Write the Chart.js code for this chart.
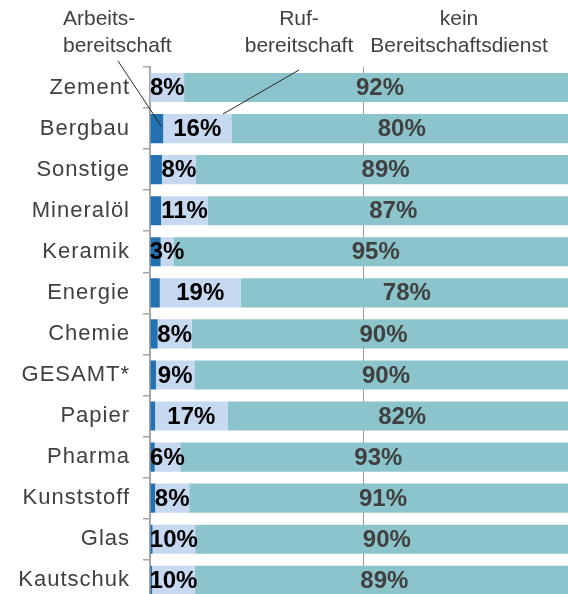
<!DOCTYPE html>
<html>
<head>
<meta charset="utf-8">
<script src="https://cdn.jsdelivr.net/npm/chart.js@4"></script>
<style>
  html, body { margin: 0; padding: 0; overflow: hidden; background: #fff; }
  #wrap { width: 576px; height: 627px; }
</style>
</head>
<body>
<div id="wrap"><canvas id="chart" width="576" height="627"></canvas></div>
<script>
const categories = ["Zement", "Bergbau", "Sonstige", "Mineralöl", "Keramik", "Energie", "Chemie",
    "GESAMT*", "Papier", "Pharma", "Kunststoff", "Glas", "Kautschuk"];

// share of companies in %
const arbeitsbereitschaft = [0, 3.1, 2.8, 2.6, 2.5, 2.3, 1.8, 1.4, 1.2, 1.1, 1.2, 0.6, 0.5];
const rufbereitschaft = [8, 16, 8, 11, 3, 19, 8, 9, 17, 6, 8, 10, 10];
const keinDienst = [92, 80, 89, 87, 95, 78, 90, 90, 82, 93, 91, 90, 89];

const seriesNames = ["Arbeitsbereitschaft", "Rufbereitschaft", "kein Bereitschaftsdienst"];
const headerLines = [["Arbeits-", "bereitschaft"], ["Ruf-", "bereitschaft"], ["kein", "Bereitschaftsdienst"]];

const font = '"Liberation Sans", Arial, sans-serif';

// header texts, leader lines and bar labels
const annotate = {
    id: "annotate",
    beforeDraw(chart) {
        // category labels are spaced a bit wider in the original
        chart.ctx.letterSpacing = "1px";
    },
    afterDatasetsDraw(chart) {
        const ctx = chart.ctx;
        ctx.save();
        ctx.letterSpacing = "0px";

        // bar value labels (Ruf + kein)
        ctx.font = "bold 24px " + font;
        ctx.textAlign = "center";
        ctx.textBaseline = "middle";
        [1, 2].forEach(di => {
            const meta = chart.getDatasetMeta(di);
            ctx.fillStyle = di === 1 ? "#000000" : "#404040";
            meta.data.forEach((bar, i) => {
                const v = chart.data.datasets[di].data[i];
                const cx = (bar.x + bar.base) / 2;
                ctx.fillText(Math.round(v) + "%", cx, bar.y + 1);
            });
        });

        // series headers
        ctx.font = "21px " + font;
        ctx.fillStyle = "#404040";
        ctx.textBaseline = "alphabetic";
        ctx.textAlign = "left";
        ctx.fillText(headerLines[0][0], 63, 25);
        ctx.fillText(headerLines[0][1], 63, 52);
        ctx.textAlign = "center";
        const headerX = [299, 459];
        [1, 2].forEach((k, j) => {
            ctx.fillText(headerLines[k][0], headerX[j], 25);
            ctx.fillText(headerLines[k][1], headerX[j], 52);
        });

        // leader lines
        ctx.strokeStyle = "#262626";
        ctx.lineWidth = 1;
        ctx.beginPath();
        ctx.moveTo(118, 61);
        ctx.lineTo(161.5, 126.5);
        ctx.moveTo(299, 70);
        ctx.lineTo(223, 114);
        ctx.stroke();

        ctx.restore();
        ctx.letterSpacing = "0px";
    }
};

new Chart(document.getElementById("chart"), {
    type: "bar",
    data: {
        labels: categories,
        datasets: [
            { label: seriesNames[0], data: arbeitsbereitschaft, backgroundColor: "#2471b2" },
            { label: seriesNames[1], data: rufbereitschaft, backgroundColor: "#c6d9f0" },
            { label: seriesNames[2], data: keinDienst, backgroundColor: "#8bc4ca" }
        ]
    },
    options: {
        indexAxis: "y",
        responsive: false,
        animation: false,
        events: [],
        categoryPercentage: 1,
        barPercentage: 0.71,
        layout: { padding: { top: 67, bottom: 1, left: 0, right: 0 } },
        plugins: {
            legend: { display: false },
            tooltip: { enabled: false }
        },
        scales: {
            x: {
                stacked: true,
                min: 0,
                max: 100,
                ticks: { display: false, stepSize: 50 },
                border: { display: false },
                grid: {
                    drawTicks: false,
                    lineWidth: 1,
                    color: c => (c.tick && c.tick.value === 50 ? "#9a9a9a" : "rgba(0,0,0,0)")
                },
                afterFit: s => { s.height = 0; }
            },
            y: {
                stacked: true,
                border: { color: "#a6a6a6", width: 2 },
                grid: {
                    drawOnChartArea: false,
                    tickLength: 7,
                    lineWidth: 1.5,
                    color: "#a6a6a6"
                },
                ticks: {
                    padding: 13,
                    color: "#404040",
                    font: { family: font, size: 22 }
                },
                afterFit: s => { s.width = 150; }
            }
        }
    },
    plugins: [annotate]
});
</script>
</body>
</html>
